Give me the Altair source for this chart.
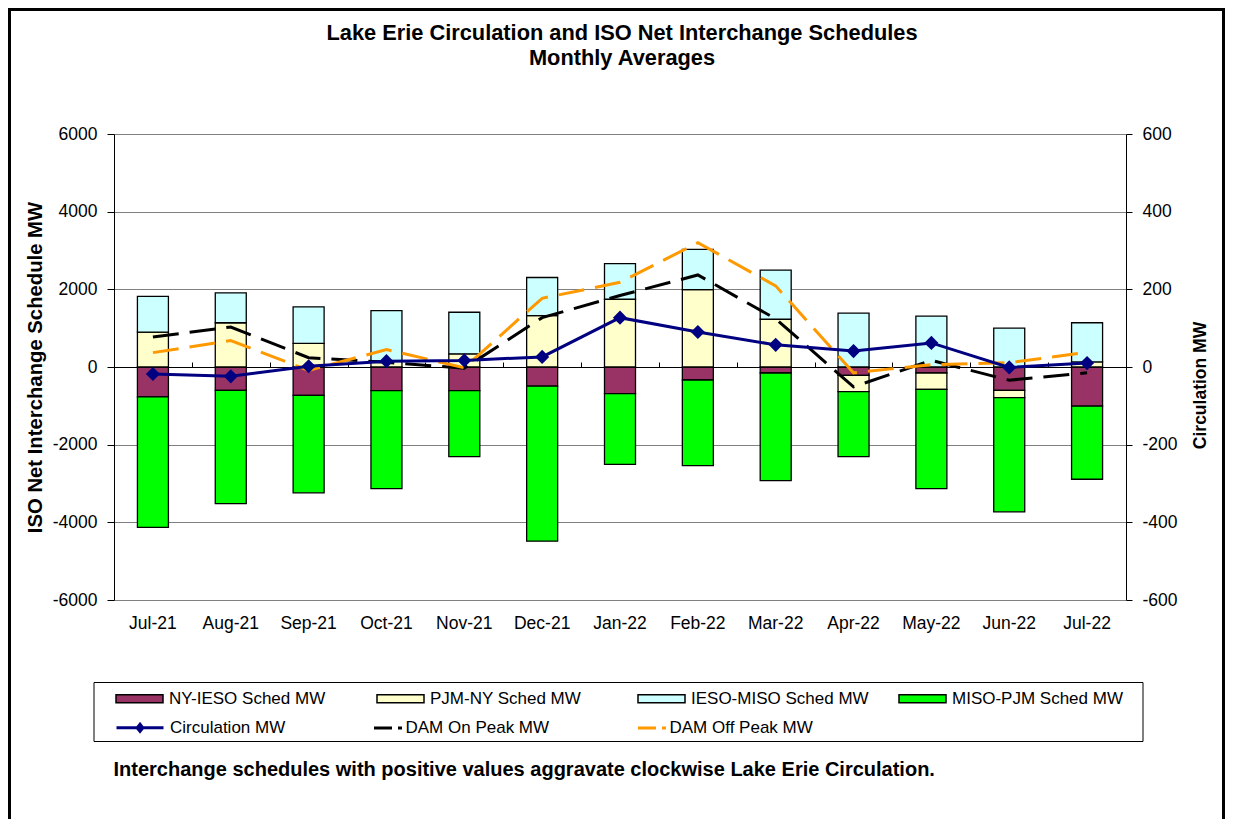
import altair as alt
import pandas as pd

months = ["Jul-21", "Aug-21", "Sep-21", "Oct-21", "Nov-21", "Dec-21", "Jan-22",
          "Feb-22", "Mar-22", "Apr-22", "May-22", "Jun-22", "Jul-22"]
ny_ieso = [-770, -600, -730, -610, -610, -495, -685, -335, -155, -215, -155, -600, -1010]
pjm_ny = [900, 1140, 610, 150, 340, 1325, 1745, 1990, 1230, -420, -420, -190, 130]
ieso_miso = [920, 770, 940, 1300, 1070, 980, 915, 1040, 1265, 1385, 1310, 1000, 1010]
miso_pjm = [-3360, -2920, -2510, -2520, -1700, -3990, -1820, -2205, -2770, -1675, -2555, -2940, -1880]
circulation = [-18, -24, 2, 15, 17, 26, 127, 90, 57, 41, 62, -1, 10]
dam_on = [77, 103, 24, 12, -3, 127, 184, 237, 124, -51, 17, -34, -15]
dam_off = [37, 68, -9, 45, -2, 177, 218, 320, 209, -15, 6, 11, 38]

bar_series = ["NY-IESO Sched MW", "PJM-NY Sched MW", "IESO-MISO Sched MW", "MISO-PJM Sched MW"]
bar_colors = ["#993366", "#FFFFCC", "#CCFFFF", "#00FF00"]
dam_series = ["DAM On Peak MW", "DAM Off Peak MW"]
dam_colors = ["#000000", "#FF9900"]
circ_name = "Circulation MW"
title_line1 = "Lake Erie Circulation and ISO Net Interchange Schedules"
title_line2 = "Monthly Averages"
footer = "Interchange schedules with positive values aggravate clockwise Lake Erie Circulation."

FONT = "Liberation Sans"
W, H = 1012, 466

rows = []
for k, (name, vals) in enumerate(zip(bar_series, [ny_ieso, pjm_ny, ieso_miso, miso_pjm])):
    for m, v in zip(months, vals):
        rows.append({"month": m, "series": name, "value": v, "ord": k})
bars_df = pd.DataFrame(rows)

dam_rows = []
for name, vals in zip(dam_series, [dam_on, dam_off]):
    for m, v in zip(months, vals):
        dam_rows.append({"month": m, "series": name, "value": v})
dam_df = pd.DataFrame(dam_rows)

circ_df = pd.DataFrame({"month": months, "value": circulation, "name": circ_name})
one = pd.DataFrame({"t": [footer]})

x_left = alt.X("month:N", sort=months,
               scale=alt.Scale(paddingInner=0, paddingOuter=0),
               axis=alt.Axis(title=None, labelAngle=0, labelFontSize=17.5, labelFont=FONT,
                             labelColor="black", domain=False, ticks=False, tickSize=0,
                             labelPadding=14, grid=False))
x_right = alt.X("month:N", sort=months,
                axis=alt.Axis(title=None, labels=False, domain=False, ticks=True,
                              tickBand="extent", tickSize=5, tickColor="black",
                              offset=-233, grid=False))

y_left = alt.Y("value:Q", stack="zero",
               scale=alt.Scale(domain=[-6000, 6000], nice=False),
               axis=alt.Axis(values=list(range(-6000, 6001, 2000)),
                             labelExpr="'' + datum.value",
                             title="ISO Net Interchange Schedule MW",
                             titleFont=FONT, titleFontSize=20.3, titleFontWeight="bold",
                             titleColor="black", titleAngle=270, titleX=-78.5, titleY=233,
                             titleAlign="center", titleBaseline="middle",
                             labelFont=FONT, labelFontSize=17.5, labelColor="black",
                             labelPadding=10, tickSize=7, tickColor="black",
                             domainColor="black",
                             gridColor=alt.condition("datum.value == 0", alt.value("black"), alt.value("#808080"))))

y_right = alt.Y("value:Q",
                scale=alt.Scale(domain=[-600, 600], nice=False),
                axis=alt.Axis(orient="right", values=list(range(-600, 601, 200)),
                              labelExpr="'' + datum.value",
                              title="Circulation MW", titleFont=FONT, titleFontSize=17.5,
                              titleFontWeight="bold", titleColor="black", titleAngle=270,
                              titleX=74, titleY=251, titleAlign="center", titleBaseline="middle",
                              labelFont=FONT, labelFontSize=17.5, labelColor="black",
                              labelPadding=10, tickSize=6, tickColor="black",
                              domainColor="black", grid=False))

bars = alt.Chart(bars_df).mark_bar(size=31, stroke="black", strokeWidth=1.3).encode(
    x=x_left,
    y=y_left,
    order=alt.Order("ord:Q", sort="ascending"),
    fill=alt.Fill("series:N", sort=bar_series,
                  scale=alt.Scale(domain=bar_series, range=bar_colors),
                  legend=alt.Legend(orient="none", legendX=1, legendY=540, direction="horizontal",
                                    columns=4, gridAlign="all", columnPadding=27, title=None,
                                    symbolType="M-1,-0.17H1V0.17H-1Z", symbolSize=2209,
                                    symbolStrokeColor="black", symbolStrokeWidth=1.5,
                                    labelFont=FONT, labelFontSize=17, labelColor="black",
                                    labelLimit=400, labelOffset=5, padding=0)),
)

title1 = alt.Chart(one).mark_text(font=FONT, fontSize=21.8, fontWeight="bold", align="center",
                                  baseline="middle", color="black", text=title_line1).encode(
    x=alt.value(508), y=alt.value(-101))
title2 = alt.Chart(one).mark_text(font=FONT, fontSize=21.8, fontWeight="bold", align="center",
                                  baseline="middle", color="black", text=title_line2).encode(
    x=alt.value(508), y=alt.value(-76))

footer_text = alt.Chart(one).mark_text(font=FONT, fontSize=20, fontWeight="bold", align="left",
                                       baseline="alphabetic", color="black").encode(
    text="t:N", x=alt.value(-0.5), y=alt.value(641.7))

legend_box = alt.Chart(one).mark_rect(fillOpacity=0, stroke="black", strokeWidth=1).encode(
    x=alt.value(-20), x2=alt.value(1029), y=alt.value(548.5), y2=alt.value(607.5))

frame = alt.Chart(one).mark_rect(fillOpacity=0, stroke="black", strokeWidth=3).encode(
    x=alt.value(-104.5), x2=alt.value(1109.5), y=alt.value(-124.5), y2=alt.value(720))

left = alt.layer(bars, legend_box, frame, title1, title2, footer_text)

dam = alt.Chart(dam_df).mark_line(strokeWidth=3).encode(
    x=x_right, y=y_right,
    strokeDash=alt.value([26, 11]),
    color=alt.Color("series:N", sort=dam_series,
                    scale=alt.Scale(domain=dam_series, range=dam_colors),
                    legend=alt.Legend(orient="none", legendX=258.5, legendY=578.3,
                                      direction="horizontal", columns=2, gridAlign="all",
                                      columnPadding=82, title=None, symbolType="stroke",
                                      symbolSize=784, symbolStrokeWidth=3, symbolDash=[18, 6],
                                      labelFont=FONT, labelFontSize=17, labelColor="black",
                                      labelLimit=400, labelOffset=2, padding=0)),
)

circ_line = alt.Chart(circ_df).mark_line(color="#000080", strokeWidth=3).encode(
    x=x_right, y=y_right)
circ_pts = alt.Chart(circ_df).mark_point(shape="diamond", filled=True, size=200,
                                         color="#000080", opacity=1).encode(
    x=x_right, y=y_right)
circ_legend = alt.Chart(circ_df).transform_filter("false").mark_line(
    color="#000080", strokeWidth=3).encode(
    x=x_right, y=y_right,
    strokeDash=alt.StrokeDash("name:N",
                              scale=alt.Scale(domain=[circ_name], range=[[1, 0]]),
                              legend=alt.Legend(orient="none", legendX=1, legendY=568.8, title=None,
                                                symbolType="M-1,0H1M0,-0.15L0.12,0L0,0.15L-0.12,0Z",
                                                symbolSize=2209, symbolStrokeColor="#000080",
                                                symbolFillColor="#000080", symbolStrokeWidth=3,
                                                symbolOpacity=1, labelFont=FONT, labelFontSize=17,
                                                labelColor="black", labelLimit=400, labelOffset=5,
                                                padding=0)),
)

right = alt.layer(dam, circ_line, circ_pts, circ_legend)

chart = alt.layer(left, right).resolve_scale(y="independent").resolve_axis(x="independent").properties(
    width=W, height=H,
    autosize=alt.AutoSizeParams(type="none"),
    padding={"left": 106, "top": 126, "right": 99, "bottom": 219},
).configure_view(stroke=None).configure(font=FONT)

chart.save("out.html", embed_options={"renderer": "svg", "actions": False})
